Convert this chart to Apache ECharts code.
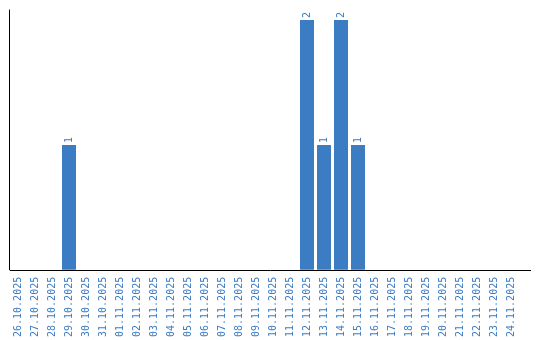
<!DOCTYPE html>
<html>
<head>
<meta charset="utf-8">
<script src="https://cdn.jsdelivr.net/npm/echarts@6/dist/echarts.min.js"></script>
<style>html,body{margin:0;padding:0;background:#fff}#c{width:540px;height:340px}</style>
</head>
<body>
<div id="c"></div>
<script>
const categories = ['26.10.2025','27.10.2025','28.10.2025','29.10.2025','30.10.2025','31.10.2025','01.11.2025','02.11.2025','03.11.2025','04.11.2025','05.11.2025','06.11.2025','07.11.2025','08.11.2025','09.11.2025','10.11.2025','11.11.2025','12.11.2025','13.11.2025','14.11.2025','15.11.2025','16.11.2025','17.11.2025','18.11.2025','19.11.2025','20.11.2025','21.11.2025','22.11.2025','23.11.2025','24.11.2025'];
const counts = [0,0,0,1,0,0,0,0,0,0,0,0,0,0,0,0,0,2,1,2,1,0,0,0,0,0,0,0,0,0];

const blue = '#3b7cc3';
const chart = echarts.init(document.getElementById('c'), null, {renderer: 'canvas'});
chart.setOption({
  animation: false,
  grid: {left: 9.5, top: 10, width: 510, bottom: 70},
  xAxis: {
    type: 'category',
    data: categories,
    axisLine: {show: false},
    axisTick: {show: false},
    axisLabel: {rotate: 90, interval: 0, margin: 7, color: blue, fontFamily: 'DejaVu Sans Mono', fontSize: 10}
  },
  yAxis: {
    type: 'value',
    min: 0, max: 2.08,
    axisLine: {show: true, lineStyle: {color: '#000', width: 1}},
    axisTick: {show: false},
    axisLabel: {show: false},
    splitLine: {show: false}
  },
  graphic: [{
    type: 'line', z: 100,
    shape: {x1: 10, y1: 270.5, x2: 531, y2: 270.5},
    style: {stroke: '#000', lineWidth: 1}
  }],
  series: [{
    type: 'bar',
    data: counts,
    barWidth: 14,
    itemStyle: {color: blue},
    label: {
      show: true, position: 'top', rotate: 90, align: 'left', verticalAlign: 'middle', distance: 2,
      color: blue, fontFamily: 'DejaVu Sans Mono', fontSize: 10,
      formatter: p => p.value ? String(p.value) : ''
    }
  }]
});
</script>
</body>
</html>
